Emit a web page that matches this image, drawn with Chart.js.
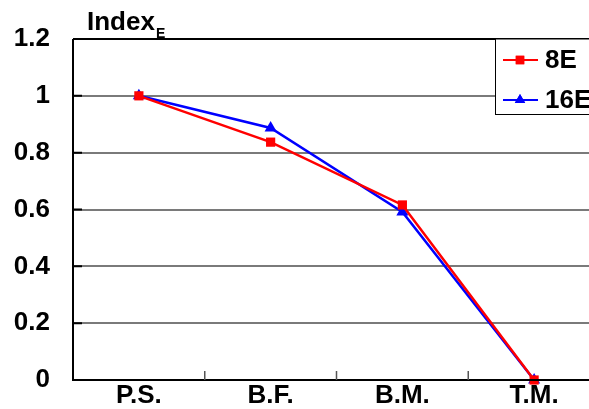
<!DOCTYPE html>
<html>
<head>
<meta charset="utf-8">
<script src="https://cdn.jsdelivr.net/npm/chart.js@4.4.1/dist/chart.umd.min.js"></script>
<style>
  html, body { margin: 0; padding: 0; background: #fff; overflow: hidden; }
  #wrap { position: relative; width: 589px; height: 409px; overflow: hidden; }
  #chart { display: block; }
</style>
</head>
<body>
<div id="wrap"><canvas id="chart" width="607" height="409"></canvas></div>
<script>
// categories and series
const categories = ['P.S.', 'B.F.', 'B.M.', 'T.M.'];
const values8E = [1, 0.837, 0.616, 0];
const values16E = [1, 0.887, 0.591, 0];
const yTicks = [0, 0.2, 0.4, 0.6, 0.8, 1, 1.2];

const FONT = '"Liberation Sans", Arial, sans-serif';

// frame, inward ticks, axis title and legend box
const framePlugin = {
    id: 'frame',
    afterDatasetsDraw(chart) {
        const { ctx, chartArea: a, scales } = chart;
        ctx.save();
        ctx.strokeStyle = '#000';
        ctx.lineWidth = 2;
        ctx.beginPath();
        ctx.moveTo(a.left, a.top);
        ctx.lineTo(a.right, a.top);
        ctx.moveTo(a.left, a.top);
        ctx.lineTo(a.left, a.bottom);
        ctx.lineTo(a.right, a.bottom);
        ctx.stroke();

        // short ticks inside the plot
        ctx.beginPath();
        yTicks.forEach(v => {
            const y = scales.y.getPixelForValue(v);
            ctx.moveTo(a.left, y);
            ctx.lineTo(a.left + 9, y);
        });
        ctx.stroke();
        ctx.strokeStyle = '#555';
        ctx.lineWidth = 1.5;
        ctx.beginPath();
        for (let i = 1; i < categories.length; i++) {
            const x = (scales.x.getPixelForValue(i - 1) + scales.x.getPixelForValue(i)) / 2;
            ctx.moveTo(x, a.bottom);
            ctx.lineTo(x, a.bottom - 9);
        }
        ctx.stroke();

        // axis title with subscript
        ctx.fillStyle = '#000';
        ctx.textBaseline = 'alphabetic';
        ctx.textAlign = 'left';
        ctx.font = 'bold 26px ' + FONT;
        ctx.fillText('Index', 87, 30);
        const w = ctx.measureText('Index').width;
        ctx.font = 'bold 14px ' + FONT;
        ctx.fillText('E', 87 + w + 1, 38);

        // legend
        const lx = 495, ly = a.top;
        ctx.fillStyle = '#fff';
        ctx.fillRect(lx, ly, 120, 75);
        ctx.strokeStyle = '#000';
        ctx.lineWidth = 1;
        ctx.strokeRect(lx + 0.5, ly, 120, 75.5);
        const items = [
            { label: '8E', color: '#ff0000', style: 'rect', y: ly + 21 },
            { label: '16E', color: '#0000ff', style: 'triangle', y: ly + 61 }
        ];
        items.forEach(it => {
            ctx.strokeStyle = it.color;
            ctx.lineWidth = 2;
            ctx.beginPath();
            ctx.moveTo(503, it.y);
            ctx.lineTo(538, it.y);
            ctx.stroke();
            ctx.fillStyle = it.color;
            Chart.helpers.drawPoint(ctx, { pointStyle: it.style, radius: 6, rotation: 0, borderWidth: 0 }, 520, it.y);
            ctx.fill();
            ctx.fillStyle = '#000';
            ctx.font = 'bold 26px ' + FONT;
            ctx.textBaseline = 'middle';
            ctx.fillText(it.label, 545, it.y + 1);
        });
        ctx.restore();
    }
};

new Chart(document.getElementById('chart'), {
    type: 'line',
    data: {
        labels: categories,
        datasets: [{
            label: '8E',
            data: values8E,
            borderColor: '#ff0000',
            backgroundColor: '#ff0000',
            borderWidth: 2.5,
            pointStyle: 'rect',
            pointRadius: 6.5,
            pointBorderWidth: 0,
            tension: 0
        }, {
            label: '16E',
            data: values16E,
            borderColor: '#0000ff',
            backgroundColor: '#0000ff',
            borderWidth: 2.5,
            pointStyle: 'triangle',
            pointRadius: 7,
            pointBorderWidth: 0,
            tension: 0
        }]
    },
    options: {
        responsive: false,
        animation: false,
        clip: false,
        layout: { padding: { top: 39, right: 0, left: 0, bottom: 0 } },
        plugins: {
            legend: { display: false },
            tooltip: { enabled: false }
        },
        scales: {
            x: {
                offset: true,
                grid: { display: false, drawTicks: false },
                border: { display: false },
                ticks: {
                    color: '#000',
                    font: { family: FONT, size: 26, weight: 'bold' },
                    padding: 0,
                    maxRotation: 0
                },
                afterFit(scale) {
                    scale.height = 29;
                    scale.paddingLeft = 0;
                    scale.paddingRight = 0;
                }
            },
            y: {
                min: 0,
                max: 1.2,
                afterBuildTicks(scale) { scale.ticks = yTicks.map(v => ({ value: v })); },
                grid: {
                    color: ctx => (ctx.tick.value === 0 || ctx.tick.value === 1.2) ? 'rgba(0,0,0,0)' : '#7a7a7a',
                    lineWidth: 2,
                    drawTicks: false
                },
                border: { display: false },
                ticks: {
                    color: '#000',
                    font: { family: FONT, size: 26, weight: 'bold' },
                    padding: 23,
                    callback: v => String(Math.round(v * 10) / 10)
                },
                afterFit(scale) {
                    scale.width = 73;
                    scale.paddingTop = 0;
                    scale.paddingBottom = 0;
                }
            }
        }
    },
    plugins: [framePlugin]
});
</script>
</body>
</html>
